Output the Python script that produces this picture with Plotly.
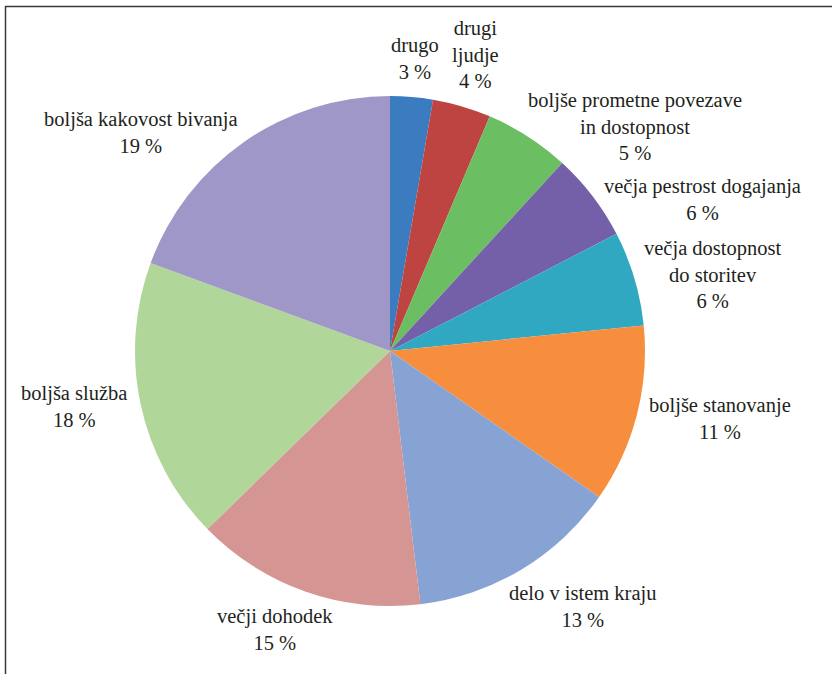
import math
import plotly.graph_objects as go

# ---- data ----
categories = [
    "drugo",
    "drugi<br>ljudje",
    "boljše prometne povezave<br>in dostopnost",
    "večja pestrost dogajanja",
    "večja dostopnost<br>do storitev",
    "boljše stanovanje",
    "delo v istem kraju",
    "večji dohodek",
    "boljša služba",
    "boljša kakovost bivanja",
]
values = [2.7, 3.7, 5.4, 5.6, 6.0, 11.3, 13.4, 14.6, 17.9, 19.4]
colors = ["#3B7BC0", "#BE4441", "#6BBE62", "#7460A8", "#31A8C2",
          "#F68E3E", "#87A3D4", "#D59593", "#B1D69A", "#A097C9"]

# ---- layout geometry (pixels) ----
W, H = 832, 674
cx, cy, R = 390, 351, 255
GAP = 12
FS = 20.5
CHAR_W = 0.41 * FS
LINE_H = 1.3 * FS
SIDE_T = 0.53     # |sin| above which a label sits beside the pie
PAD = 6
FONT = dict(family="Liberation Serif", size=FS, color="#231F20")

fig = go.Figure()
fig.add_trace(go.Pie(
    labels=[c.replace("<br>", " ") for c in categories],
    values=values,
    sort=False,
    direction="clockwise",
    rotation=0,
    marker=dict(colors=colors, line=dict(width=0)),
    textinfo="none",
    showlegend=False,
    domain=dict(x=[(cx - R) / W, (cx + R) / W], y=[1 - (cy + R) / H, 1 - (cy - R) / H]),
))

# label boxes derived from slice mid-angles
total = sum(values)
cum = 0.0
boxes = []
for name, v in zip(categories, values):
    mid = (cum + v / 2) / total * 2 * math.pi
    cum += v
    ux, uy = math.sin(mid), math.cos(mid)
    px = cx + (R + GAP) * ux
    py = cy - (R + GAP) * uy
    pct = f"{round(v)} %"
    lines = name.split("<br>") + [pct]
    w = max(len(l) for l in lines) * CHAR_W
    h = len(lines) * LINE_H
    if abs(ux) >= SIDE_T:
        tx = px + math.copysign(w / 2, ux)
        ty = py
    else:
        frac = max(-1.0, min(1.0, ux / 0.7))
        tx = px + frac * w / 2
        ty = py - math.copysign(h / 2, uy)
    boxes.append(dict(text=name + "<br>" + pct, tx=tx, ty=ty, w=w, h=h, right=ux >= 0))

# simple overlap resolution: push lower labels down
for side in (True, False):
    group = sorted([b for b in boxes if b["right"] == side], key=lambda b: b["ty"])
    for i, cur in enumerate(group):
        for prev in group[:i]:
            xo = abs(cur["tx"] - prev["tx"]) < (cur["w"] + prev["w"]) / 2
            need = prev["ty"] + prev["h"] / 2 + PAD - (cur["ty"] - cur["h"] / 2)
            if xo and need > 0:
                cur["ty"] += need

annotations = [dict(
    x=b["tx"] / W, y=1 - b["ty"] / H, xref="paper", yref="paper",
    text=b["text"], showarrow=False,
    xanchor="center", yanchor="middle", align="center", font=FONT,
) for b in boxes]

fig.update_layout(
    width=W, height=H,
    margin=dict(l=0, r=0, t=0, b=0),
    paper_bgcolor="white", plot_bgcolor="white",
    font=FONT,
    annotations=annotations,
    shapes=[dict(type="rect", xref="paper", yref="paper",
                 x0=5.5 / W, x1=1.05, y0=-0.05, y1=1 - 6.5 / H,
                 line=dict(color="#3A3A3A", width=1.5), fillcolor="rgba(0,0,0,0)")],
)

fig.write_html("out.html", config={"displayModeBar": False},
               post_script="document.body.style.margin='0';")
